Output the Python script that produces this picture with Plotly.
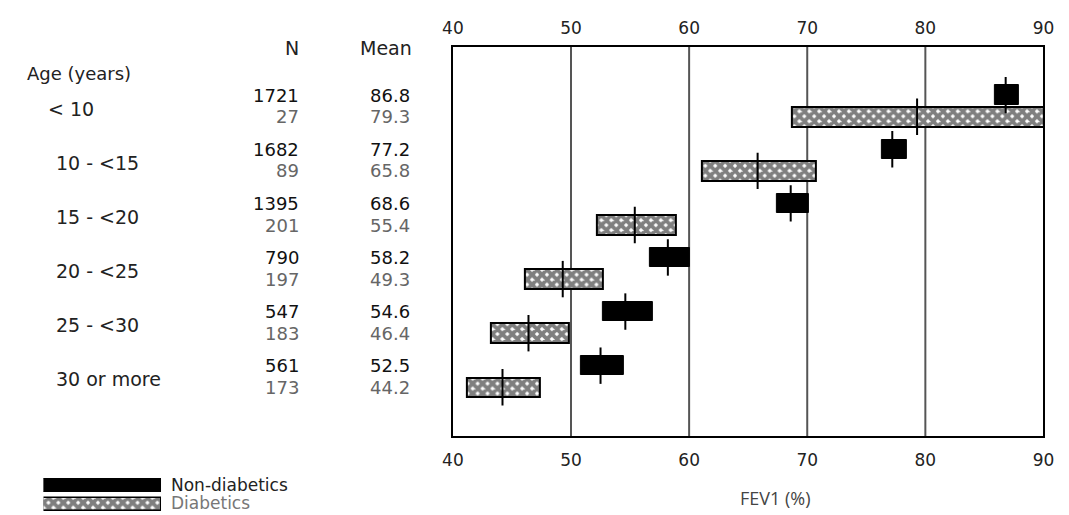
import plotly.graph_objects as go

# ---------------- data ----------------
age_groups = ["< 10", "10 - <15", "15 - <20", "20 - <25", "25 - <30", "30 or more"]
n_nd = [1721, 1682, 1395, 790, 547, 561]
mean_nd = [86.8, 77.2, 68.6, 58.2, 54.6, 52.5]
n_d = [27, 89, 201, 197, 183, 173]
mean_d = [79.3, 65.8, 55.4, 49.3, 46.4, 44.2]
ci_nd_lo = [85.9, 76.3, 67.4, 56.7, 52.7, 50.8]
ci_nd_hi = [87.9, 78.4, 70.1, 60.1, 56.9, 54.5]
ci_d_lo = [68.7, 61.1, 52.2, 46.1, 43.2, 41.2]
ci_d_hi = [90.0, 70.7, 58.9, 52.7, 49.8, 47.4]
x_ticks = [40, 50, 60, 70, 80, 90]
grid_vals = [50, 60, 70, 80]
legend_labels = ["Non-diabetics", "Diabetics"]

W, H = 1069, 515
FONT = "DejaVu Sans"

def px(x):
    return x / W

def py(y):
    return (H - y) / H

idx = list(range(len(age_groups)))
y_nd = [g - 0.2 for g in idx]
y_d = [g + 0.2 for g in idx]

hatch = dict(shape="x", fgcolor="black", bgcolor="white", size=7, solidity=0.8)

fig = go.Figure()

# non-diabetic boxes
fig.add_trace(go.Bar(
    orientation="h", y=y_nd, base=ci_nd_lo,
    x=[h - l for h, l in zip(ci_nd_hi, ci_nd_lo)],
    width=0.36, marker=dict(color="black", line=dict(color="black", width=1)),
    showlegend=False, hoverinfo="skip"))
# diabetic boxes
fig.add_trace(go.Bar(
    orientation="h", y=y_d, base=ci_d_lo,
    x=[h - l for h, l in zip(ci_d_hi, ci_d_lo)],
    width=0.36, marker=dict(color="white", pattern=hatch,
                            line=dict(color="black", width=2)),
    showlegend=False, hoverinfo="skip"))
# mean ticks
fig.add_trace(go.Scatter(
    x=mean_nd + mean_d, y=y_nd + y_d, mode="markers",
    marker=dict(symbol="line-ns", size=26, line=dict(color="black", width=2)),
    showlegend=False, hoverinfo="skip"))
# invisible trace for top axis
fig.add_trace(go.Scatter(x=[x_ticks[0], x_ticks[-1]], y=[0, 0], xaxis="x2",
                         mode="markers", marker=dict(opacity=0),
                         showlegend=False, hoverinfo="skip"))

# legend swatches on a separate small axis
fig.add_trace(go.Bar(orientation="h", y=[0], x=[1], width=0.66, xaxis="x3", yaxis="y3",
                     marker=dict(color="black", line=dict(color="black", width=1)),
                     showlegend=False, hoverinfo="skip"))
fig.add_trace(go.Bar(orientation="h", y=[1], x=[1], width=0.66, xaxis="x3", yaxis="y3",
                     marker=dict(color="white", pattern=hatch, line=dict(color="black", width=1.5)),
                     showlegend=False, hoverinfo="skip"))

for g in grid_vals:
    fig.add_shape(type="line", x0=g, x1=g, y0=0, y1=1, xref="x", yref="y domain",
                  line=dict(color="#555", width=2), layer="below")

x_dom = [px(443), px(1046)]
axis_font = dict(family=FONT, size=17, color="#222")

fig.update_layout(
    width=W, height=H, margin=dict(l=0, r=0, t=0, b=0),
    paper_bgcolor="white", plot_bgcolor="white", barmode="overlay",
    xaxis=dict(domain=x_dom, range=[40, 90], tickvals=x_ticks, showgrid=False,
               zeroline=False, showline=True, linecolor="black", linewidth=2,
               mirror=True, ticks="", tickfont=axis_font, ticklabelstandoff=8),
    xaxis2=dict(overlaying="x", side="top", range=[40, 90], tickvals=x_ticks,
                showgrid=False, zeroline=False, showline=False, ticks="",
                tickfont=axis_font, ticklabelstandoff=9, anchor="y"),
    yaxis=dict(domain=[py(428), py(39)], range=[6.1, -1.09], showticklabels=False,
               showgrid=False, zeroline=False, showline=True, linecolor="black",
               linewidth=2, mirror=True, ticks=""),
    xaxis3=dict(domain=[px(25), px(145)], range=[0, 1], visible=False, anchor="y3"),
    yaxis3=dict(domain=[0, py(465)], range=[1.95, -0.63], visible=False, anchor="x3"),
    bargap=0,
)

ann = []
# headers
ann.append(dict(x=px(288), y=py(40), text="N", xanchor="right", size=19))
ann.append(dict(x=px(403), y=py(40), text="Mean", xanchor="right", size=19))
ann.append(dict(x=px(6), y=py(65), text="Age (years)", xanchor="left", size=18))
for g in idx:
    ann.append(dict(x=px(28 if g == 0 else 36), y=g + 0.05, yref="y",
                    text=age_groups[g], xanchor="left", size=19))
    ann.append(dict(x=px(288), y=y_nd[g], yref="y", text=str(n_nd[g]), xanchor="right",
                    color="#111"))
    ann.append(dict(x=px(401), y=y_nd[g], yref="y", text=f"{mean_nd[g]:.1f}", xanchor="right",
                    color="#111"))
    ann.append(dict(x=px(288), y=y_d[g], yref="y", text=str(n_d[g]), xanchor="right",
                    color="#666"))
    ann.append(dict(x=px(401), y=y_d[g], yref="y", text=f"{mean_d[g]:.1f}", xanchor="right",
                    color="#666"))

annotations = []
for a in ann:
    annotations.append(dict(
        x=a["x"], y=a["y"], xref="paper", yref=a.get("yref", "paper"),
        text=a["text"], showarrow=False, xanchor=a["xanchor"], yanchor="middle",
        font=dict(family=FONT, size=a.get("size", 18), color=a.get("color", "#222"))))

# legend text
annotations.append(dict(x=px(153), y=py(477), xref="paper", yref="paper",
                        text=legend_labels[0], showarrow=False, xanchor="left",
                        yanchor="middle", font=dict(family=FONT, size=17, color="#222")))
annotations.append(dict(x=px(153), y=py(495), xref="paper", yref="paper",
                        text=legend_labels[1], showarrow=False, xanchor="left",
                        yanchor="middle", font=dict(family=FONT, size=17, color="#777")))
# x axis title
annotations.append(dict(x=px(772), y=py(490), xref="paper", yref="paper",
                        text="FEV1 (%)", showarrow=False, xanchor="center",
                        yanchor="middle", font=dict(family="Open Sans", size=18, color="#444")))

fig.update_layout(annotations=annotations)
fig.write_html("out.html")
